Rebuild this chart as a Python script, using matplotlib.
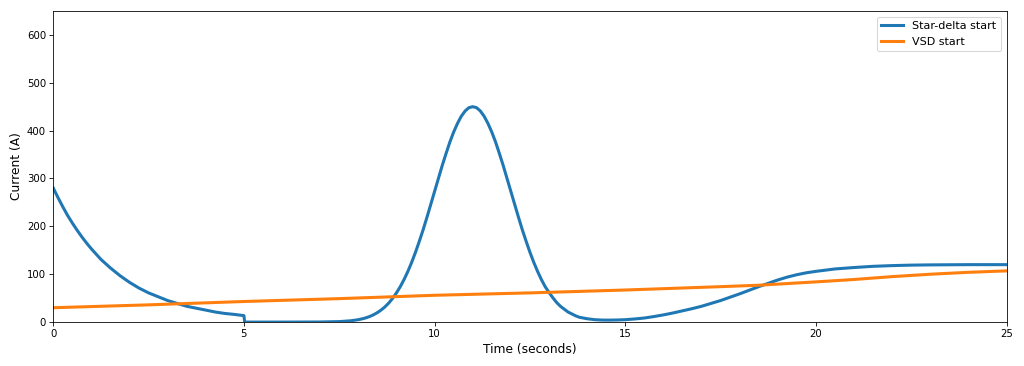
import matplotlib.pyplot as plt

# Star-delta start current (A)
star_t = [0, 0.125, 0.25, 0.375, 0.5, 0.625, 0.75, 0.875, 1.0, 1.25, 1.5, 1.75, 2.0,
          2.25, 2.5, 2.75, 3.0, 3.25, 3.5, 3.75, 4.0, 4.25, 4.5, 4.75, 5.0,
          5.02, 6.0, 7.0, 7.5, 7.8, 8.0, 8.1, 8.2, 8.3, 8.4, 8.5, 8.6, 8.7, 8.8, 8.9,
          9.0, 9.1, 9.2, 9.3, 9.4, 9.5, 9.6, 9.7, 9.8, 9.9,
          10.0, 10.1, 10.2, 10.3, 10.4, 10.5, 10.6, 10.7, 10.8, 10.9,
          11.0, 11.1, 11.2, 11.3, 11.4, 11.5, 11.6, 11.7, 11.8, 11.9,
          12.0, 12.1, 12.2, 12.3, 12.4, 12.5, 12.6, 12.7, 12.8, 12.9,
          13.0, 13.1, 13.2, 13.3, 13.4, 13.5, 13.6, 13.7, 13.8, 13.9,
          14.0, 14.2, 14.4, 14.6, 14.8, 15.0, 15.25, 15.5, 15.75, 16.0,
          16.25, 16.5, 16.75, 17.0, 17.25, 17.5, 17.75, 18.0, 18.25, 18.5,
          18.75, 19.0, 19.25, 19.5, 19.75, 20.0, 20.25, 20.5, 20.75, 21.0,
          21.5, 22.0, 22.5, 23.0, 24.0, 25.0]
star_a = [280, 260, 241, 223, 207, 192, 178, 165, 153, 131, 113, 97, 83,
          71, 61, 53, 45, 39, 33, 29, 25, 21, 18, 16, 13.5,
          0, 0, 0.2, 1, 2.7, 5, 6.7, 8.9, 11.7, 15.3, 19.8, 25.3, 31.9, 40, 49.6,
          61, 74, 89, 106, 125, 146, 169, 193, 219, 246,
          273, 300, 327, 352, 376, 397, 415, 430, 441, 448,
          450, 448, 441, 430, 415, 397, 376, 352, 327, 300,
          273, 246, 219, 193, 169, 146, 125, 106, 89, 74,
          62, 51, 41, 33, 27, 21, 17, 13, 10, 8.5,
          7, 5, 4.2, 4.1, 4.4, 5, 6.5, 8.5, 11.5, 15,
          19, 23.5, 28, 33, 39, 45, 52, 59, 66.5, 74,
          81, 88, 94, 99, 103, 106, 108.5, 111, 112.5, 114,
          116.5, 118, 119, 119.5, 120, 120]

# VSD start current (A)
vsd_t = [0, 2.5, 5, 7.5, 10, 12.5, 15, 17.5, 18.5, 20, 21, 22, 23, 24, 25]
vsd_a = [30, 36, 43, 49, 56, 61, 67, 74, 77, 84, 89, 95, 100, 104, 107]

fig, ax = plt.subplots(figsize=(14, 366 / (1024 / 14)), dpi=1024 / 14)

ax.plot(star_t, star_a, color='#1f77b4', linewidth=3, label='Star-delta start')
ax.plot(vsd_t, vsd_a, color='#ff7f0e', linewidth=3, label='VSD start')

ax.set_xlim(0, 25)
ax.set_ylim(0, 650)
ax.set_xlabel('Time (seconds)', fontsize=12)
ax.set_ylabel('Current (A)', fontsize=12)
ax.legend(loc='upper right', fontsize=11)

fig.subplots_adjust(left=0.052, right=0.983, top=0.97, bottom=0.12)
fig.savefig('out.png')
